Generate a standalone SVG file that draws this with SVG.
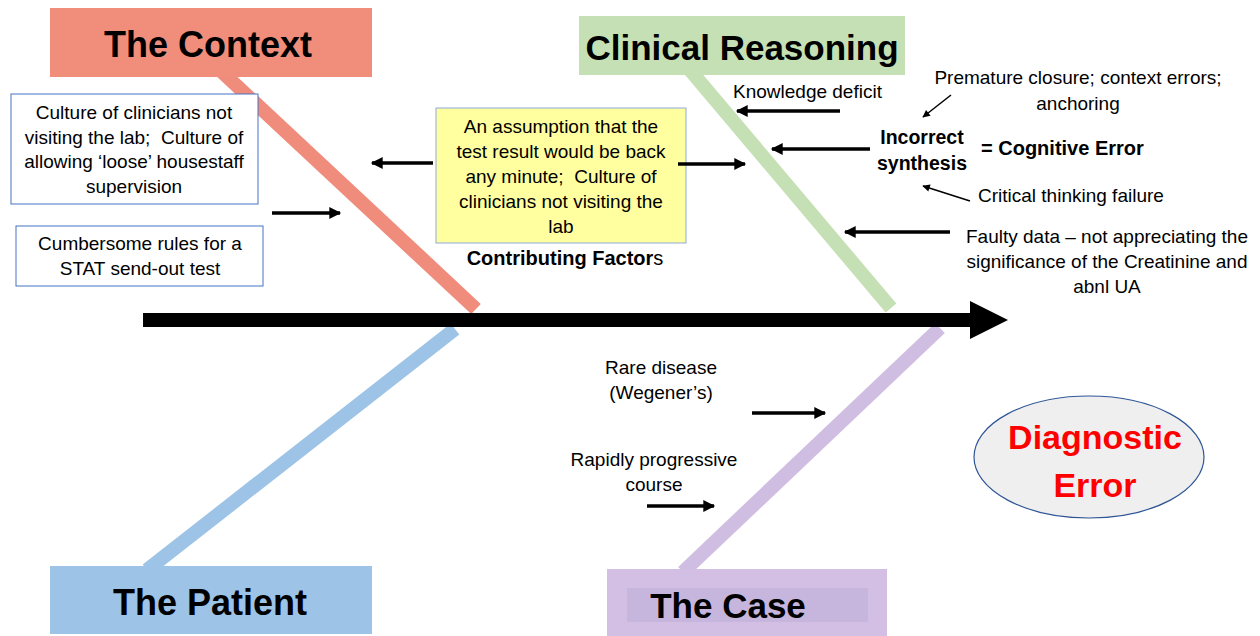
<svg xmlns="http://www.w3.org/2000/svg" width="1260" height="636" viewBox="0 0 1260 636">
<style>
text{font-family:"Liberation Sans",Arial,sans-serif;fill:#000;white-space:pre}
.t{font-size:19px;text-anchor:middle}
.ts{font-size:19px}
.h{font-size:36px;font-weight:bold;text-anchor:middle}
.b{font-size:19.5px;font-weight:bold}
.ar{stroke:#000;stroke-width:3.5;fill:none;marker-end:url(#ah)}
.thin{stroke:#000;stroke-width:1.5;fill:none;marker-end:url(#ahs)}
.box{fill:#fff;stroke:#4472C4;stroke-width:1}
</style>
<defs>
<marker id="ah" viewBox="0 0 10 10" refX="9" refY="5" markerWidth="4" markerHeight="3.4" orient="auto" markerUnits="strokeWidth"><path d="M0,0L10,5L0,10z" fill="#000"/></marker>
<marker id="ahs" viewBox="0 0 10 10" refX="9" refY="5" markerWidth="6" markerHeight="5" orient="auto" markerUnits="strokeWidth"><path d="M0,0L10,5L0,10z" fill="#000"/></marker>
</defs>
<rect width="1260" height="636" fill="#fff"/>
<g id="bones">
<line x1="222" y1="72" x2="476" y2="309" stroke="#F08C7C" stroke-width="14"/>
<line x1="690" y1="70" x2="891" y2="308" stroke="#C5E0B4" stroke-width="14"/>
<line x1="455" y1="329" x2="147" y2="570" stroke="#9DC3E6" stroke-width="14"/>
<line x1="940" y1="328" x2="683" y2="572" stroke="#D0BDE2" stroke-width="14"/>
</g>
<g id="spine">
<line x1="143" y1="320" x2="972" y2="320" stroke="#000" stroke-width="14"/>
<path d="M970,301L1008,320L970,339z" fill="#000"/>
</g>
<g id="context">
<rect x="50" y="8" width="322" height="69" fill="#F08E7B"/>
<text class="h" x="208" y="57">The Context</text>
</g>
<g id="clinical">
<rect x="579" y="16" width="326" height="59" fill="#C5E0B4"/>
<text class="h" x="742" y="60" style="font-size:35px">Clinical Reasoning</text>
</g>
<g id="patient">
<rect x="50" y="566" width="322" height="68" fill="#9DC3E6"/>
<text class="h" x="210" y="615">The Patient</text>
</g>
<g id="case">
<rect x="607" y="569" width="280" height="67" fill="#D3BFE3"/>
<rect x="627" y="588" width="241" height="34" fill="#C6B5DD"/>
<text class="h" x="728" y="618" style="font-size:35px">The Case</text>
</g>
<g id="culture">
<rect class="box" x="11" y="94" width="247" height="110"/>
<text class="t" x="134" y="119">Culture of clinicians not</text>
<text class="t" x="134" y="144">visiting the lab;  Culture of</text>
<text class="t" x="134" y="168">allowing ‘loose’ housestaff</text>
<text class="t" x="134" y="193">supervision</text>
</g>
<g id="cumbersome">
<rect class="box" x="16" y="226" width="247" height="60"/>
<text class="t" x="140" y="250">Cumbersome rules for a</text>
<text class="t" x="140" y="275">STAT send-out test</text>
</g>
<g id="assumption">
<rect x="436" y="108" width="250" height="135" fill="#FFFF9F" stroke="#8EA9DB" stroke-width="1"/>
<text class="t" x="561" y="133">An assumption that the</text>
<text class="t" x="561" y="158">test result would be back</text>
<text class="t" x="561" y="183">any minute;  Culture of</text>
<text class="t" x="561" y="208">clinicians not visiting the</text>
<text class="t" x="561" y="233">lab</text>
</g>
<g id="contributing">
<text x="565" y="265" style="font-size:20px;text-anchor:middle"><tspan font-weight="bold">Contributing Factor</tspan>s</text>
</g>
<g id="knowledge">
<text class="ts" x="733" y="98">Knowledge deficit</text>
</g>
<g id="incorrect">
<text class="b" x="922" y="144" text-anchor="middle">Incorrect</text>
<text class="b" x="922" y="170" text-anchor="middle">synthesis</text>
<text class="b" x="981" y="155" style="font-size:20px">= Cognitive Error</text>
</g>
<g id="premature">
<text class="t" x="1078" y="84">Premature closure; context errors;</text>
<text class="t" x="1078" y="110">anchoring</text>
</g>
<g id="critical">
<text class="ts" x="978" y="202">Critical thinking failure</text>
</g>
<g id="faulty">
<text class="t" x="1107" y="243">Faulty data – not appreciating the</text>
<text class="t" x="1107" y="268">significance of the Creatinine and</text>
<text class="t" x="1107" y="293">abnl UA</text>
</g>
<g id="rare">
<text class="t" x="661" y="374">Rare disease</text>
<text class="t" x="661" y="399">(Wegener’s)</text>
</g>
<g id="rapid">
<text class="t" x="654" y="466">Rapidly progressive</text>
<text class="t" x="654" y="491">course</text>
</g>
<g id="diagnostic">
<ellipse cx="1089" cy="457" rx="115" ry="61" fill="#EFEFEF" stroke="#2F5597" stroke-width="1.2"/>
<text x="1095" y="449" style="font-size:34px;font-weight:bold;fill:#FF0000;text-anchor:middle">Diagnostic</text>
<text x="1095" y="497" style="font-size:34px;font-weight:bold;fill:#FF0000;text-anchor:middle">Error</text>
</g>
<g id="connectors">
<line class="ar" x1="433" y1="163" x2="372" y2="163"/>
<line class="ar" x1="272" y1="213" x2="340" y2="213"/>
<line class="ar" x1="678" y1="164" x2="745" y2="164"/>
<line class="ar" x1="840" y1="111" x2="737" y2="111"/>
<line class="ar" x1="870" y1="149" x2="772" y2="149"/>
<line class="ar" x1="950" y1="232" x2="845" y2="232"/>
<line class="ar" x1="752" y1="413" x2="825" y2="413"/>
<line class="ar" x1="647" y1="506" x2="714" y2="506"/>
<line class="thin" x1="951" y1="95" x2="923" y2="117"/>
<line class="thin" x1="970" y1="201" x2="923" y2="186"/>
</g>
</svg>
